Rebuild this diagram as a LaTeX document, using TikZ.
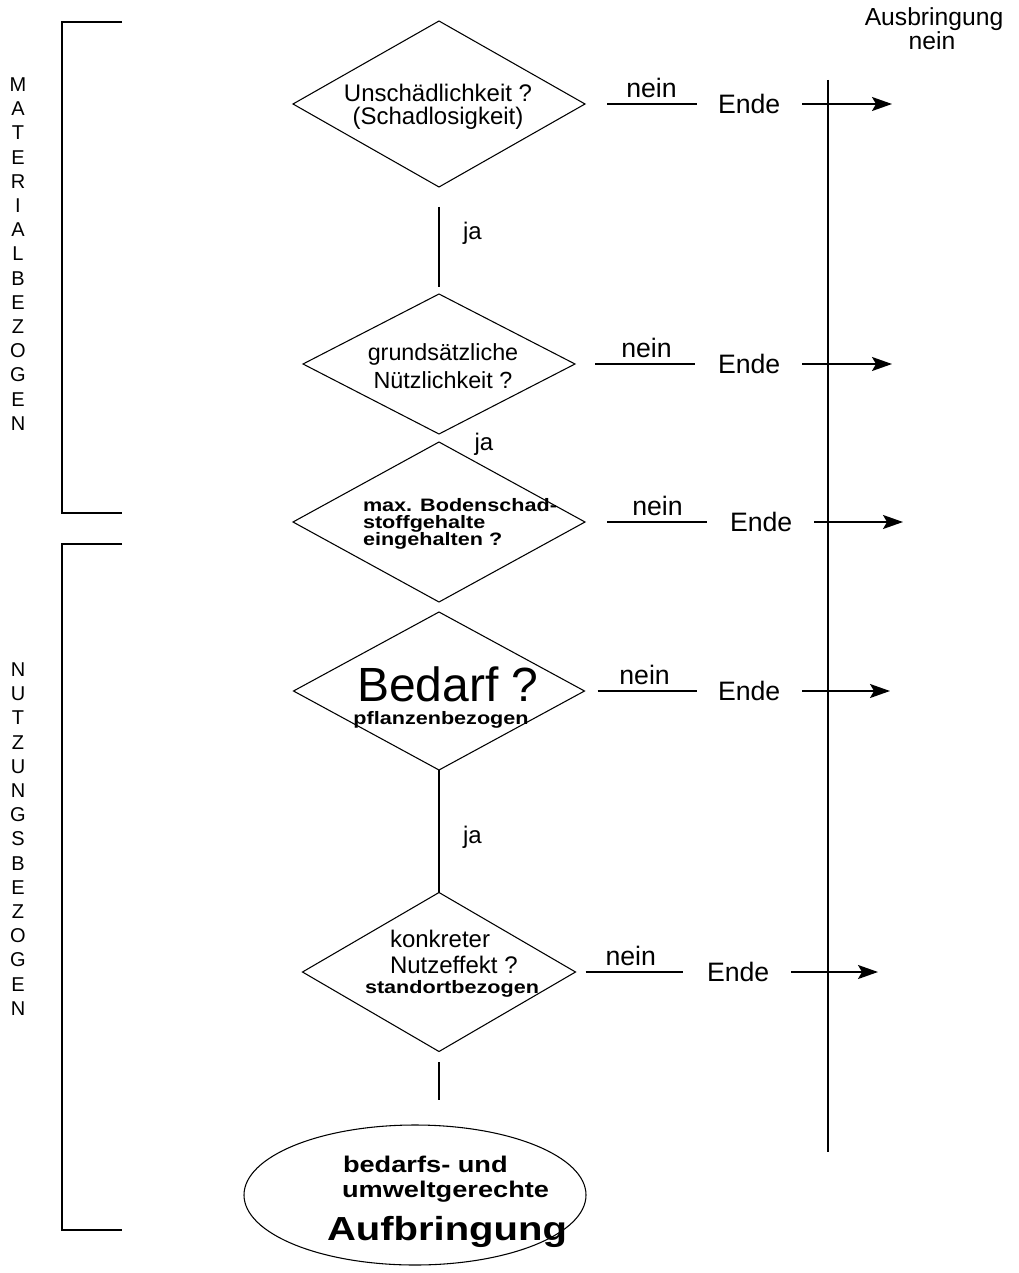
\documentclass[tikz,border=0pt]{standalone}
\usepackage{fontspec}
\usepackage{graphicx}
\setmainfont{Liberation Sans}
\newfontfamily\wbf[FakeStretch=1.2]{Liberation Sans}
\usetikzlibrary{shapes.geometric, arrows.meta}
\begin{document}
\begin{tikzpicture}[x=0.75pt, y=-0.75pt,
  every node/.style={inner sep=0pt, outer sep=0pt},
  dia/.style={draw, shape=diamond, line width=0.8pt, inner sep=0pt},
  ln/.style={line width=1.3pt},
  arr/.style={line width=1.3pt, -{Stealth[length=15pt, width=10.5pt, inset=3pt]}},
  txt/.style={font=\fontsize{18}{17.25}\selectfont},
  endtxt/.style={font=\fontsize{20}{24}\selectfont},
  neintxt/.style={font=\fontsize{20}{24}\selectfont, above=5pt},
  austxt/.style={font=\fontsize{18.5}{22}\selectfont},
  jatxt/.style={font=\fontsize{18}{22}\selectfont},
  bsmall/.style={font=\wbf\bfseries\fontsize{13.5}{13}\selectfont},
  vlab/.style={align=center, font=\fontsize{15}{18.15}\selectfont}
]
\path[fill=white] (0,0) rectangle (1018,1273);
\useasboundingbox (0,0) rectangle (1018,1273);

% side brackets
\draw[ln] (122,22) -- (62,22) -- (62,513) -- (122,513);
\draw[ln] (122,544) -- (62,544) -- (62,1230) -- (122,1230);
\node[vlab] (lmat) at (18,254) {M\\A\\T\\E\\R\\I\\A\\L\\B\\E\\Z\\O\\G\\E\\N};
\node[vlab] (lnutz) at (18,839) {N\\U\\T\\Z\\U\\N\\G\\S\\B\\E\\Z\\O\\G\\E\\N};

% diamonds
\node[dia, minimum width=219pt, minimum height=124.5pt] (d1) at (439,104) {};
\node[dia, minimum width=204pt, minimum height=105pt] (d2) at (439,364) {};
\node[dia, minimum width=219pt, minimum height=120pt] (d3) at (439,522) {};
\node[dia, minimum width=218.25pt, minimum height=118.5pt] (d4) at (439,691) {};
\node[dia, minimum width=204.75pt, minimum height=119.25pt] (d5) at (439,972) {};
\node[draw, shape=ellipse, line width=0.8pt, minimum width=256.5pt, minimum height=105pt] (el) at (415,1195) {};

% diamond texts
\node[txt, align=center] (t1) at (438,107) {Unschädlichkeit ?\\(Schadlosigkeit)};
\node[font=\fontsize{17.5}{21}\selectfont, align=center] (t2) at (443,366) {grundsätzliche\\Nützlichkeit ?};
\node[bsmall, align=left, anchor=west] (t3) at (363,524) {max. Bodenschad-\\stoffgehalte\\eingehalten ?};
\node[font=\fontsize{36}{40}\selectfont, anchor=base] (t4a) at (448,701) {Bedarf ?};
\node[bsmall, anchor=base] (t4b) at (441,724) {pflanzenbezogen};
\node[txt, anchor=base west] (t5a) at (390,947) {konkreter};
\node[txt, anchor=base west] (t5b) at (390,973) {Nutzeffekt ?};
\node[bsmall, anchor=base] (t5c) at (452,993) {standortbezogen};
\node[font=\wbf\bfseries\fontsize{17}{20}\selectfont, anchor=base west] (t6a) at (343,1172) {bedarfs- und};
\node[font=\wbf\bfseries\fontsize{17}{20}\selectfont, anchor=base west] (t6b) at (342,1197) {umweltgerechte};
\node[font=\wbf\bfseries\fontsize{25}{28}\selectfont, anchor=base west] (t6c) at (327,1240) {Aufbringung};

% ja connectors
\draw[ln] ([yshift=-15pt]d1.south) -- ([yshift=5.25pt]d2.north)
  node[jatxt, pos=0.33, right=18pt] (ja1) {ja};
\node[jatxt] (ja2) at (484,444) {ja};
\draw[ln] (d4.south) -- (d5.north)
  node[jatxt, pos=0.55, right=18pt] (ja3) {ja};
\coordinate (c5) at (439,1100);
\draw[ln] ([yshift=-7.9pt]d5.south) -- (c5);

% Ende nodes
\node[endtxt, anchor=west] (e1) at (718,104) {Ende};
\node[endtxt, anchor=west] (e2) at (718,364) {Ende};
\node[endtxt, anchor=west] (e3) at (730,522) {Ende};
\node[endtxt, anchor=west] (e4) at (718,691) {Ende};
\node[endtxt, anchor=west] (e5) at (707,972) {Ende};

% nein lines
\draw[ln, shorten <=16.5pt, shorten >=15.75pt] (d1.east) -- (e1.west) node[neintxt, midway] (n1) {nein};
\draw[ln, shorten <=15pt, shorten >=17.25pt] (d2.east) -- (e2.west) node[neintxt, midway] (n2) {nein};
\draw[ln, shorten <=16.5pt, shorten >=17.25pt] (d3.east) -- (e3.west) node[neintxt, midway] (n3) {nein};
\draw[ln, shorten <=9.75pt, shorten >=15.75pt] (d4.east) -- (e4.west) node[neintxt, pos=0.45] (n4) {nein};
\draw[ln, shorten <=7.5pt, shorten >=18pt] (d5.east) -- (e5.west) node[neintxt, pos=0.42] (n5) {nein};

% right vertical line
\coordinate (vt) at (828,80);
\coordinate (vb) at (828,1152);
\draw[ln] (vt) -- (vb);

% arrows
\coordinate (a1) at (892,104);
\coordinate (a2) at (892,364);
\coordinate (a3) at (903,522);
\coordinate (a4) at (890,691);
\coordinate (a5) at (878,972);
\draw[arr] ([xshift=16.5pt]e1.east) -- (a1);
\draw[arr] ([xshift=16.5pt]e2.east) -- (a2);
\draw[arr] ([xshift=16.5pt]e3.east) -- (a3);
\draw[arr] ([xshift=16.5pt]e4.east) -- (a4);
\draw[arr] ([xshift=16.5pt]e5.east) -- (a5);

% top right label
\node[austxt, anchor=base] (aus1) at (934,26) {Ausbringung};
\node[austxt, anchor=base] (aus2) at (932,50) {nein};
\end{tikzpicture}
\end{document}
